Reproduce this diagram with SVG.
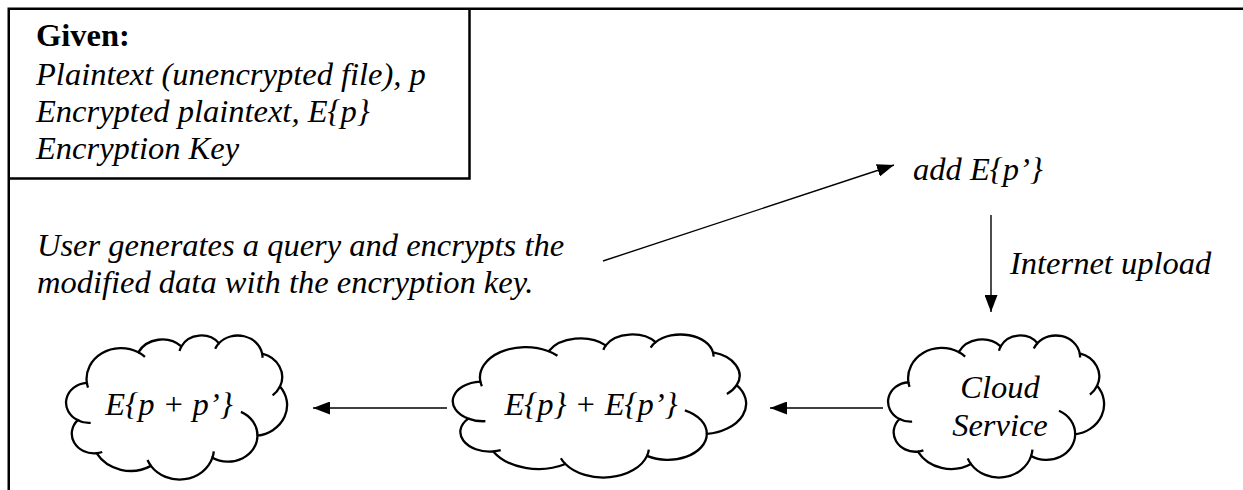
<svg xmlns="http://www.w3.org/2000/svg" xmlns:xlink="http://www.w3.org/1999/xlink" width="1243" height="490" viewBox="0 0 1243 490">
<style>
.t{font-family:"Liberation Serif","Times New Roman",serif;font-size:32.5px;font-style:italic;fill:#000}
.b{font-style:normal;font-weight:bold}
.m{text-anchor:middle}
.frame{fill:none;stroke:#000;stroke-width:2.5}
.cl{fill:#fff;stroke:#000;stroke-width:2.3}
.seam{fill:none;stroke:#000;stroke-width:2.3}
.con{fill:none;stroke:#000;stroke-width:1.4}
</style>
<defs>
<marker id="ah" viewBox="0 0 17 13" refX="17" refY="6.5" markerWidth="17" markerHeight="13" markerUnits="userSpaceOnUse" orient="auto"><path d="M0,0 L17,6.5 L0,13 z" fill="#000"/></marker>
<path id="cloudOutline" vector-effect="non-scaling-stroke" d="M3900 14370 A6753 9190 0 0 1 14005 5202 A5333 7267 0 0 1 22456 3432 A4365 5945 0 0 1 29833 2481 A4857 6595 0 0 1 38318 5576 A5333 7273 0 0 1 41819 15460 A6775 9220 0 0 1 37405 30203 A5785 7867 0 0 1 28556 36813 A6752 9215 0 0 1 16481 39264 A7720 10543 0 0 1 5805 35470 A4360 5918 0 0 1 2114 25548 A4345 5945 0 0 1 3900 14370 Z"/>
<path id="cloudSeams" vector-effect="non-scaling-stroke" d="M4647 26345 A4345 5945 0 0 1 2114 25548 M6914 35088 A4360 5918 0 0 1 5805 35470 M16481 39264 A6752 9215 0 0 1 15813 37524 M28823 34904 A6752 9215 0 0 1 28556 36813 M34153 23067 A5785 7867 0 0 1 37405 30203 M41819 15460 A5333 7273 0 0 1 40371 18135 M38318 5576 A4857 6595 0 0 1 38395 6840 M29091 4094 A4857 6595 0 0 1 29833 2481 M22097 4822 A4365 5945 0 0 1 22456 3432 M14005 5202 A6753 9190 0 0 1 15305 6550 M4127 15789 A6753 9190 0 0 1 3900 14370"/>
</defs>
<rect width="1243" height="490" fill="#fff"/>
<g id="frame">
<path class="frame" d="M8.75 490 V8.75 H1243"/>
</g>
<g id="given">
<path class="frame" d="M8.75 178.5 H469.5 V8.75"/>
<text class="t b" x="36" y="46">Given:</text>
<text class="t" x="36" y="85">Plaintext (unencrypted file), p</text>
<text class="t" x="36" y="122">Encrypted plaintext, E{p}</text>
<text class="t" x="36" y="159">Encryption Key</text>
</g>
<g id="user-query">
<text class="t" x="37" y="256">User generates a query and encrypts the</text>
<text class="t" x="37" y="293">modified data with the encryption key.</text>
</g>
<g id="add-ep">
<text class="t" x="913" y="180">add E{p’}</text>
</g>
<g id="internet-upload">
<text class="t" x="1010" y="274">Internet upload</text>
</g>
<g id="cloud-service">
<g transform="translate(889 335) scale(0.0049768 0.0032870)">
<use xlink:href="#cloudOutline" class="cl"/>
<use xlink:href="#cloudSeams" class="seam"/>
</g>
<text class="t m" x="1000" y="398">Cloud</text>
<text class="t m" x="1000" y="436">Service</text>
</g>
<g id="cloud-sum">
<g transform="translate(454 334) scale(0.0067593 0.0033102)">
<use xlink:href="#cloudOutline" class="cl"/>
<use xlink:href="#cloudSeams" class="seam"/>
</g>
<text class="t m" x="591" y="415">E{p} + E{p’}</text>
</g>
<g id="cloud-result">
<g transform="translate(67 335) scale(0.0050926 0.0033333)">
<use xlink:href="#cloudOutline" class="cl"/>
<use xlink:href="#cloudSeams" class="seam"/>
</g>
<text class="t m" x="169" y="415">E{p + p’}</text>
</g>
<g id="connectors">
<line class="con" x1="603" y1="261" x2="894" y2="165" marker-end="url(#ah)"/>
<line class="con" x1="991" y1="215" x2="991" y2="312" marker-end="url(#ah)"/>
<line class="con" x1="883" y1="408" x2="770" y2="408" marker-end="url(#ah)"/>
<line class="con" x1="447" y1="408" x2="313" y2="408" marker-end="url(#ah)"/>
</g>
</svg>
